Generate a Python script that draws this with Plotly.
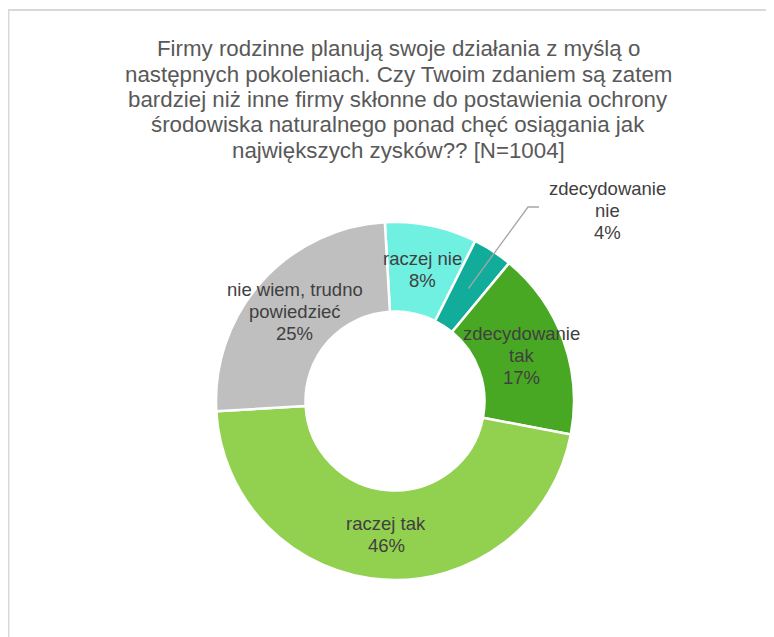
import math
import plotly.graph_objects as go

# ---- data ----
labels = ["raczej nie", "zdecydowanie nie", "zdecydowanie tak", "raczej tak", "nie wiem, trudno powiedzieć"]
label_lines = [["raczej nie"], ["zdecydowanie", "nie"], ["zdecydowanie", "tak"], ["raczej tak"], ["nie wiem, trudno", "powiedzieć"]]
values = [8.3, 3.6, 17.0, 46.1, 25.0]
colors = ["#70F0E1", "#12AC9B", "#49A823", "#92D050", "#BFBFBF"]
title_lines = [
    "Firmy rodzinne planują swoje działania z myślą o",
    "następnych pokoleniach. Czy Twoim zdaniem są zatem",
    "bardziej niż inne firmy skłonne do postawienia ochrony",
    "środowiska naturalnego ponad chęć osiągania jak",
    "największych zysków?? [N=1004]",
]

# ---- layout constants (page pixels) ----
W, H = 774, 637
OFF = 8  # page body margin offset of the plot div
CX, CY, R = 395, 401, 179
HOLE = 0.5
START = -3.25  # degrees clockwise from 12 o'clock
FONT = "Liberation Sans, Arial, sans-serif"
TXT = "#404040"
LINE_H = 22


def px_to_paper(x, y):
    """page pixel -> paper coords of the plot div"""
    return (x - OFF) / W, 1 - (y - OFF) / H


fig = go.Figure()
dx0, dy0 = px_to_paper(CX - R, CY + R)
dx1, dy1 = px_to_paper(CX + R, CY - R)
fig.add_trace(go.Pie(
    labels=labels, values=values, sort=False, direction="clockwise",
    rotation=START, hole=HOLE, textinfo="none", hoverinfo="label+percent",
    marker=dict(colors=colors, line=dict(color="white", width=2.5)),
    domain=dict(x=[dx0, dx1], y=[dy0, dy1]),
    showlegend=False,
))

annotations = []
shapes = []
total = sum(values)
cum = 0.0
r_mid = R * (1 + HOLE) / 2
for i, v in enumerate(values):
    mid = START + (cum + v / 2) / total * 360
    cum += v
    pct = f"{round(v / total * 100)}%"
    lines = label_lines[i] + [pct]
    ax = CX + r_mid * math.sin(math.radians(mid))
    ay = CY - r_mid * math.cos(math.radians(mid))
    if labels[i] == "zdecydowanie nie":
        # outside label with leader line
        ex, ey = 528, 207
        shapes.append(dict(type="path", xref="paper", yref="paper",
                           path="M {} {} L {} {} L {} {}".format(
                               *px_to_paper(ax, ay), *px_to_paper(ex, ey), *px_to_paper(ex + 11, ey)),
                           line=dict(color="#A6A6A6", width=1.3)))
        lx, ly = 607, 210
    else:
        lx, ly = ax, ay
    n = len(lines)
    for j, t in enumerate(lines):
        px, py = px_to_paper(lx, ly + (j - (n - 1) / 2) * LINE_H)
        annotations.append(dict(x=px, y=py, xref="paper", yref="paper", text=t,
                                showarrow=False, xanchor="center", yanchor="middle",
                                font=dict(family=FONT, size=18.5, color=TXT)))

# title
for j, t in enumerate(title_lines):
    px, py = px_to_paper(398, 49 + j * 25.3)
    annotations.append(dict(x=px, y=py, xref="paper", yref="paper", text=t,
                            showarrow=False, xanchor="center", yanchor="middle",
                            font=dict(family=FONT, size=22.3, color="#595959")))

# chart-area border (cropped on right/bottom)
bx0, by1 = px_to_paper(8.5, 10)
shapes.append(dict(type="rect", xref="paper", yref="paper",
                   x0=bx0, x1=1.05, y0=-0.05, y1=by1,
                   line=dict(color="#D9D9D9", width=2)))

fig.update_layout(
    width=W, height=H, margin=dict(l=0, r=0, t=0, b=0),
    paper_bgcolor="white", plot_bgcolor="white",
    annotations=annotations, shapes=shapes,
)
fig.write_html("out.html")
